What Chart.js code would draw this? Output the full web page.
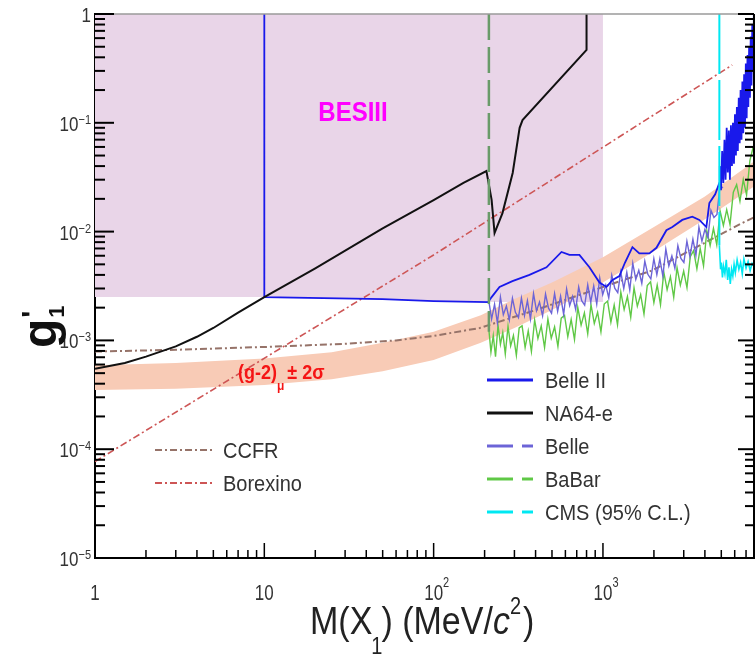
<!DOCTYPE html>
<html>
<head>
<meta charset="utf-8">
<script src="https://cdn.jsdelivr.net/npm/chart.js@4.4.1/dist/chart.umd.min.js"></script>
<style>
  html, body { margin: 0; padding: 0; background: #fff; }
</style>
</head>
<body>
<canvas id="chart" width="756" height="662"></canvas>
<script>
// axis ranges and tick labels
const xMin = 1, xMax = 7800, yMin = 1e-5, yMax = 1;
const xTickValues = [1, 10, 100, 1000];
const xTickBase = ['1', '10', '10', '10'];
const xTickExp = ['', '', '2', '3'];
const yTickValues = [1, 1e-1, 1e-2, 1e-3, 1e-4, 1e-5];
const yTickBase = ['1', '10', '10', '10', '10', '10'];
const yTickExp = ['', '\u22121', '\u22122', '\u22123', '\u22124', '\u22125'];

// BESIII excluded region (lower edge, filled up to g = 1)
const besM = [1, 10, 210, 1000];
const besG = [0.0025, 0.0025, 0.00225, 0.00225];

// (g-2)mu +- 2 sigma band
const bandM = [1, 3, 10, 25, 50, 100, 190, 300, 500, 1000, 2000, 4000, 7800];
const bandHi = [0.00059, 0.00062, 0.00068, 0.00078, 0.00095, 0.0012, 0.0017, 0.0024, 0.0034, 0.0058, 0.011, 0.021, 0.044];
const bandLo = [0.00035, 0.00036, 0.00039, 0.00044, 0.00052, 0.00066, 0.00095, 0.0013, 0.0019, 0.0034, 0.0066, 0.013, 0.026];

// CCFR and Borexino
const ccfrM = [1, 3, 10, 30, 60, 100, 187, 400, 1000, 1960, 4000, 6650, 7800];
const ccfrG = [0.00079, 0.00082, 0.00087, 0.00093, 0.001, 0.0011, 0.0013, 0.0019, 0.0031, 0.0044, 0.0079, 0.012, 0.0135];
const borM = [1, 100, 5800];
const borG = [0.000077, 0.0061, 0.34];

// NA64-e
const na64M = [1, 1.5, 2, 3, 4, 5, 7, 10, 20, 50, 100, 150, 205, 220, 229, 255, 293, 322, 335, 800, 800];
const na64G = [0.00055, 0.00062, 0.00071, 0.00088, 0.00108, 0.0013, 0.0018, 0.0025, 0.0046, 0.0107, 0.0195, 0.028, 0.036, 0.0196, 0.0097, 0.0148, 0.0346, 0.09, 0.106, 0.467, 1];

// Belle II
const b2M = [10, 10, 50, 100, 210, 220, 245, 292, 368, 464, 569, 634, 726, 832, 954, 1050, 1140, 1250, 1350, 1493, 1640, 1880, 2070, 2370, 2570, 2940, 3370, 3710, 4080, 4250, 4600, 4870,
  4900, 4980, 5060, 5140, 5220, 5300, 5380, 5460, 5540, 5620, 5700, 5780, 5860, 5940, 6020, 6100, 6180, 6260, 6340, 6420, 6500, 6580, 6660, 6740, 6820, 6900, 6980, 7060, 7140, 7220, 7300, 7380, 7460, 7540, 7620, 7700, 7780];
const b2G = [1, 0.0025, 0.0024, 0.0023, 0.00225, 0.0025, 0.0031, 0.0035, 0.004, 0.0047, 0.0065, 0.0061, 0.0061, 0.0047, 0.0034, 0.0031, 0.0036, 0.0039, 0.0052, 0.0072, 0.0063, 0.0063, 0.0071, 0.0103, 0.011, 0.0128, 0.0137, 0.0128, 0.011, 0.0183, 0.022, 0.028,
  0.04, 0.024, 0.055, 0.028, 0.07, 0.03, 0.09, 0.035, 0.085, 0.03, 0.095, 0.04, 0.1, 0.042, 0.12, 0.05, 0.14, 0.055, 0.17, 0.065, 0.2, 0.07, 0.24, 0.08, 0.28, 0.09, 0.35, 0.11, 0.42, 0.14, 0.5, 0.17, 0.62, 0.22, 0.8, 0.3, 1.0];

// Belle
const belleM = [212, 220, 229, 238, 248, 258, 269, 280, 292, 304, 317, 330, 344, 358, 373, 389, 405, 422, 440, 458,
  477, 497, 518, 540, 562, 586, 610, 636, 662, 690, 719, 749, 780, 813, 847, 882, 919, 957, 997, 1039,
  1082, 1127, 1174, 1223, 1274, 1327, 1383, 1440, 1500, 1563, 1628, 1696, 1767, 1841, 1918, 1998, 2081, 2168, 2258, 2352,
  2450, 2553, 2659, 2770, 2886, 3006, 3132, 3262, 3398, 3540, 3688, 3842, 4002, 4169, 4343, 4524, 4713, 4910, 5115];
const belleG = [0.00228, 0.00157, 0.00215, 0.00145, 0.0025, 0.00172, 0.00207, 0.00154, 0.00244, 0.00181, 0.00162, 0.00245, 0.00169, 0.00232, 0.00157, 0.00269, 0.00187, 0.00225, 0.00168, 0.00266,
  0.00198, 0.00178, 0.00269, 0.00185, 0.00255, 0.00173, 0.00297, 0.00209, 0.00254, 0.00193, 0.00309, 0.00232, 0.00211, 0.00324, 0.00226, 0.00316, 0.00216, 0.00376, 0.00264, 0.00322,
  0.00246, 0.00397, 0.00302, 0.00275, 0.00426, 0.00299, 0.00422, 0.00291, 0.00512, 0.00363, 0.0044, 0.00335, 0.00536, 0.00405, 0.00368, 0.00564, 0.00402, 0.0056, 0.0039, 0.00691,
  0.00484, 0.00599, 0.0046, 0.00744, 0.00567, 0.0052, 0.00816, 0.0059, 0.00851, 0.00608, 0.011, 0.00818, 0.0105, 0.0088, 0.0157, 0.0135, 0.0144, 0.0264, 0.0252];

// BaBar (vertical edge at 2 m_mu, then the limit)
const babarEdgeM = [212, 212];
const babarEdgeG = [1, 0.0012];
const babarM = [212, 218, 225, 232, 240, 248, 256, 265, 275, 285, 296, 308, 320, 333, 347, 362, 378, 395, 413, 432,
  452, 473, 495, 518, 542, 567, 593, 620, 649, 679, 710, 743, 777, 813, 850, 889, 930, 973, 1018, 1065,
  1114, 1165, 1219, 1275, 1334, 1395, 1459, 1526, 1596, 1670, 1747, 1827, 1911, 1999, 2091, 2187, 2288, 2393, 2503, 2618,
  2739, 2865, 2997, 3135, 3279, 3430, 3588, 3753, 3926, 4107, 4296, 4494, 4701, 4917, 5144, 5381, 5629, 5888, 6159, 6443,
  6740, 7050, 7375, 7715];
const babarG = [0.00125, 0.00078, 0.00111, 0.00071, 0.00138, 0.00092, 0.00118, 0.00075, 0.00135, 0.00089, 0.00111, 0.00073, 0.0013, 0.00136, 0.00086, 0.00122, 0.00079, 0.00154, 0.00104, 0.00136,
  0.00086, 0.00157, 0.00105, 0.00133, 0.00088, 0.0016, 0.0017, 0.00108, 0.00156, 0.00102, 0.00201, 0.00138, 0.00179, 0.00115, 0.00213, 0.00143, 0.00181, 0.0012, 0.00216, 0.0023,
  0.00147, 0.00212, 0.00139, 0.00278, 0.00192, 0.00253, 0.00163, 0.00304, 0.00206, 0.00263, 0.00175, 0.0032, 0.00345, 0.00222, 0.00323, 0.00213, 0.00424, 0.00292, 0.00385, 0.00249,
  0.00465, 0.00322, 0.00434, 0.00306, 0.00589, 0.00669, 0.00455, 0.007, 0.00486, 0.0102, 0.00743, 0.0107, 0.00756, 0.0155, 0.0114, 0.0159, 0.0116, 0.023, 0.027, 0.019,
  0.030, 0.0217, 0.045, 0.06];

// CMS (vertical edge, then the limit)
const cmsEdgeM = [4870, 4870];
const cmsEdgeG = [1, 0.0075];
const cmsM = [4870, 4950, 5000, 5080, 5150, 5250, 5350, 5450, 5550, 5650, 5750, 5850, 5950, 6050, 6200, 6350, 6500, 6650, 6800, 7000, 7200, 7400, 7600, 7800];
const cmsG = [0.0075, 0.0045, 0.0052, 0.0038, 0.0048, 0.0041, 0.0055, 0.0036, 0.0047, 0.0033, 0.0045, 0.0039, 0.005, 0.0042, 0.0055, 0.0045, 0.0052, 0.0041, 0.0056, 0.0046, 0.0053, 0.0044, 0.0051, 0.0048];

// legend entries
const legendRight = ['Belle II', 'NA64-e', 'Belle', 'BaBar', 'CMS (95% C.L.)'];
const legendLeft = ['CCFR', 'Borexino'];

const colors = {
  bes: 'rgb(233,213,232)',
  band: 'rgb(248,203,182)',
  belle2: 'rgb(25,25,235)',
  belle: 'rgb(108,100,215)',
  babar: 'rgb(95,200,70)',
  babarEdge: 'rgb(105,155,105)',
  na64: '#111',
  cms: 'rgb(0,232,242)',
  bor: 'rgb(205,85,85)',
  ccfr: 'rgb(150,115,105)'
};
const dashDot = [7, 3, 2, 3];

const pts = (xs, ys) => xs.map((x, i) => ({ x: x, y: ys[i] }));

function series(label, xs, ys, color, width, dash, order) {
  return {
    label: label, data: pts(xs, ys), borderColor: color, borderWidth: width,
    borderDash: dash || [], fill: false, pointRadius: 0, tension: 0, order: order
  };
}

const datasets = [
  { label: 'BESIII', data: pts(besM, besG), borderWidth: 0, borderColor: 'rgba(0,0,0,0)', backgroundColor: colors.bes, fill: 'end', pointRadius: 0, order: 20 },
  { label: 'g2hi', data: pts(bandM, bandHi), borderWidth: 0, borderColor: 'rgba(0,0,0,0)', backgroundColor: colors.band, fill: '+1', pointRadius: 0, order: 19 },
  { label: 'g2lo', data: pts(bandM, bandLo), borderWidth: 0, borderColor: 'rgba(0,0,0,0)', fill: false, pointRadius: 0, order: 18 },
  series('CCFR', ccfrM, ccfrG, colors.ccfr, 2, dashDot, 9),
  series('Borexino', borM, borG, colors.bor, 1.6, dashDot, 8),
  series('BaBar', babarM, babarG, colors.babar, 1.4, null, 7),
  series('Belle', belleM, belleG, colors.belle, 1.4, null, 6),
  series('Belle II', b2M, b2G, colors.belle2, 1.8, null, 5),
  series('NA64-e', na64M, na64G, colors.na64, 2, null, 4),
  series('BaBar edge', babarEdgeM, babarEdgeG, colors.babarEdge, 2.5, [26, 7], 3),
  series('CMS edge', cmsEdgeM, cmsEdgeG, colors.cms, 2, [60, 6], 2),
  series('CMS', cmsM, cmsG, colors.cms, 1.6, null, 1)
];

function txt(ctx, s, x, y, font, color, align, sy) {
  ctx.save();
  ctx.translate(x, y);
  ctx.scale(1, sy || 1);
  ctx.font = font;
  ctx.fillStyle = color;
  ctx.textAlign = align || 'left';
  ctx.textBaseline = 'alphabetic';
  ctx.fillText(s, 0, 0);
  const w = ctx.measureText(s).width;
  ctx.restore();
  return w;
}

function seg(ctx, x0, y0, x1, y1) {
  ctx.beginPath();
  ctx.moveTo(x0, y0);
  ctx.lineTo(x1, y1);
  ctx.stroke();
}

const FONT = '"Liberation Sans", Arial, sans-serif';

const deco = {
  id: 'deco',
  afterDraw(chart) {
    const { ctx, chartArea: a, scales: { x, y } } = chart;
    ctx.save();

    // frame top and right
    ctx.strokeStyle = '#9a9a9a';
    ctx.lineWidth = 1.5;
    seg(ctx, a.left, a.top, a.right, a.top);
    ctx.strokeStyle = '#000';
    ctx.lineWidth = 2;
    seg(ctx, a.right, a.top, a.right, a.bottom);

    // ticks on x (pointing up)
    ctx.lineWidth = 1.5;
    for (let k = 0; k <= 3; k++) {
      for (let m = 1; m <= 9; m++) {
        const v = m * Math.pow(10, k);
        if (v > xMax) break;
        const px = x.getPixelForValue(v);
        seg(ctx, px, a.bottom, px, a.bottom - (m === 1 ? 15 : 8));
      }
    }
    // ticks on y (left and right, pointing inwards)
    ctx.lineWidth = 2;
    for (let k = -5; k <= 0; k++) {
      for (let m = 1; m <= 9; m++) {
        const v = m * Math.pow(10, k);
        if (v > yMax + 1e-12) break;
        const py = y.getPixelForValue(v);
        seg(ctx, a.left, py, a.left + (m === 1 ? 19 : 10), py);
        seg(ctx, a.right, py, a.right - (m === 1 ? 16 : 9), py);
      }
    }

    // tick labels
    const tc = '#333';
    yTickValues.forEach((v, i) => {
      const py = y.getPixelForValue(v);
      let right = 91;
      if (yTickExp[i]) {
        ctx.font = '11px ' + FONT;
        const w = ctx.measureText(yTickExp[i]).width;
        txt(ctx, yTickExp[i], right, py + 1, '11px ' + FONT, tc, 'right', 1.2);
        right -= w;
      }
      txt(ctx, yTickBase[i], right, py + 8, '17px ' + FONT, tc, 'right', 1.2);
    });
    xTickValues.forEach((v, i) => {
      const px = x.getPixelForValue(v);
      const w = txt(ctx, xTickBase[i], px, 600, '17px ' + FONT, tc, 'center', 1.3);
      if (xTickExp[i]) txt(ctx, xTickExp[i], px + w / 2, 587, '11px ' + FONT, tc, 'left', 1.3);
    });

    // x axis title
    let cx = 310;
    const big = '34px ' + FONT, small = '20px ' + FONT, tcol = '#222';
    cx += txt(ctx, 'M(X', cx, 634, big, tcol, 'left', 1.15);
    cx += txt(ctx, '1', cx - 1, 654, small, tcol, 'left', 1.15) - 2;
    cx += txt(ctx, ') (MeV/', cx, 634, big, tcol, 'left', 1.15);
    cx += txt(ctx, 'c', cx, 634, 'italic ' + big, tcol, 'left', 1.15);
    cx += txt(ctx, '2', cx, 614, small, tcol, 'left', 1.15);
    txt(ctx, ')', cx + 2, 634, big, tcol, 'left', 1.15);

    // y axis title, rotated
    ctx.save();
    ctx.translate(56, 348);
    ctx.rotate(-Math.PI / 2);
    const gw = txt(ctx, 'g', 0, 0, 'bold 48px ' + FONT, '#111', 'left', 1);
    txt(ctx, '\'', gw + 1, -14, 'bold 30px ' + FONT, '#111', 'left', 1);
    txt(ctx, '1', gw + 1, 8, 'bold 22px ' + FONT, '#111', 'left', 1);
    ctx.restore();

    // labels inside the plot
    txt(ctx, 'BESIII', 353, 121, 'bold 24px ' + FONT, 'rgb(255,0,255)', 'center', 1.15);
    let gx = 238;
    gx += txt(ctx, '(g-2)', gx, 379, 'bold 18px ' + FONT, 'rgb(245,20,20)', 'left', 1.1);
    gx += txt(ctx, '\u03bc', gx, 390, 'bold 12px ' + FONT, 'rgb(245,20,20)', 'left', 1.1);
    txt(ctx, '\u00b1 2\u03c3', gx + 3, 379, 'bold 18px ' + FONT, 'rgb(245,20,20)', 'left', 1.1);

    // left legend
    const leftCols = [colors.ccfr, colors.bor];
    legendLeft.forEach((name, i) => {
      const ly = 450 + i * 33;
      ctx.strokeStyle = leftCols[i];
      ctx.lineWidth = 2;
      ctx.setLineDash(dashDot);
      seg(ctx, 155, ly, 212, ly);
      ctx.setLineDash([]);
      txt(ctx, name, 223, ly + 8, '20px ' + FONT, '#333', 'left', 1.08);
    });

    // right legend
    const rightCols = [colors.belle2, colors.na64, colors.belle, colors.babar, colors.cms];
    legendRight.forEach((name, i) => {
      const ly = 380 + i * 33;
      ctx.strokeStyle = rightCols[i];
      ctx.lineWidth = 3;
      if (i < 2) {
        seg(ctx, 487, ly, 533, ly);
      } else {
        seg(ctx, 487, ly, 513, ly);
        seg(ctx, 522, ly, 533, ly);
      }
      txt(ctx, name, 545, ly + 8, '20px ' + FONT, '#333', 'left', 1.08);
    });

    ctx.restore();
  }
};

new Chart(document.getElementById('chart'), {
  type: 'line',
  data: { datasets: datasets },
  options: {
    responsive: false,
    animation: false,
    devicePixelRatio: 1,
    layout: { padding: { top: 14, right: 2, left: 0, bottom: 0 } },
    plugins: { legend: { display: false }, tooltip: { enabled: false } },
    elements: { point: { radius: 0 }, line: { tension: 0 } },
    scales: {
      x: {
        type: 'logarithmic', min: xMin, max: xMax,
        ticks: { display: false },
        grid: { display: false, drawTicks: false },
        border: { display: true, color: '#000', width: 2 },
        afterFit: (s) => { s.height = 104; }
      },
      y: {
        type: 'logarithmic', min: yMin, max: yMax,
        ticks: { display: false },
        grid: { display: false, drawTicks: false },
        border: { display: true, color: '#000', width: 2 },
        afterFit: (s) => { s.width = 95; }
      }
    }
  },
  plugins: [deco]
});
</script>
</body>
</html>
